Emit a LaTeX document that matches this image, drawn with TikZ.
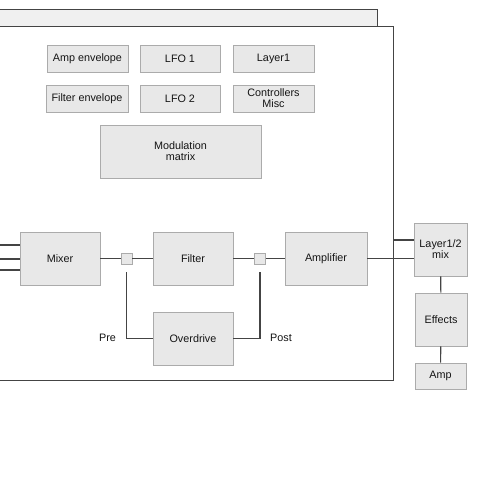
\documentclass[tikz,border=0pt]{standalone}
\usepackage{fontspec}
\setmainfont{Liberation Sans}
\usetikzlibrary{calc}
\usetikzlibrary{positioning}
\definecolor{boxfill}{HTML}{E8E8E8}
\definecolor{boxline}{HTML}{ABABAB}
\definecolor{wirecol}{HTML}{444444}
\definecolor{backfill}{HTML}{F0F0F0}
\tikzstyle{block} = [rectangle, draw=boxline, fill=boxfill, line width=0.9pt, align=center, inner sep=0, text=black!92, font=\fontsize{10.8}{11}\selectfont]
\tikzstyle{wire} = [-, draw=wirecol, line width=1.1pt]
\tikzstyle{panel} = [draw=wirecol, line width=1pt]
\tikzstyle{lbl} = [draw=none, inner sep=0, text=black!92, font=\fontsize{10.8}{11}\selectfont]

\begin{document}
\begin{tikzpicture}[x=1pt, y=-1pt]
\useasboundingbox (0,0) rectangle (500,500);
% voice panels
\draw [panel, fill=backfill] (-10,10) rectangle (377,40);
\draw [panel, fill=white] (-10,27) rectangle (393,380);
% modulation sources
\node [block, minimum width=81, minimum height=27] (ampenv) at (87.5, 58.5) {Amp envelope};
\node [block, minimum width=80, minimum height=27] (lfoa) at (180, 58.5) {LFO 1};
\node [block, minimum width=81, minimum height=27] (layera) at (273.5, 58.5) {Layer1};
\node [block, minimum width=82, minimum height=27] (filtenv) at (87, 98.5) {Filter envelope};
\node [block, minimum width=80, minimum height=27] (lfob) at (180, 98.5) {LFO 2};
\node [block, minimum width=81, minimum height=27] (ctrl) at (273.5, 98.5) {Controllers\\Misc};
\node [block, minimum width=161, minimum height=53] (modmat) at (180.5, 151.5) {Modulation\\matrix};
% signal path
\node [block, minimum width=80, minimum height=53] (mixer) at (60, 258.5) {Mixer};
\node [block, minimum width=11, minimum height=11] (sqpre) at (126.5, 258.5) {};
\node [block, minimum width=80, minimum height=53] (filter) at (193, 258.5) {Filter};
\node [block, minimum width=11, minimum height=11] (sqpost) at (260, 258.5) {};
\node [block, minimum width=82, minimum height=53] (amplif) at (326, 258.5) {Amplifier};
\node [block, minimum width=80, minimum height=53] (overdr) at (193, 338.5) {Overdrive};
\node [lbl] (pre) at (107.5, 337.5) {Pre};
\node [lbl] (post) at (281, 337.5) {Post};
\node [block, minimum width=53, minimum height=53] (mix) at (440.5, 249.5) {Layer1/2\\mix};
\node [block, minimum width=52, minimum height=53] (fx) at (441, 319.5) {Effects};
\node [block, minimum width=51, minimum height=26] (ampout) at (440.5, 376) {Amp};
\coordinate (ina) at (-5, 245);
\coordinate (inb) at (-5, 259);
\coordinate (inc) at (-5, 270);
\coordinate (layerb) at (393, 240);
\draw [wire] (ina) -- (ina -| mixer.west);
\draw [wire] (inb) -- (inb -| mixer.west);
\draw [wire] (inc) -- (inc -| mixer.west);
\draw [wire] (mixer) -- (sqpre);
\draw [wire] (sqpre) -- (filter);
\draw [wire] (filter) -- (sqpost);
\draw [wire] (sqpost) -- (amplif);
\draw [wire, shorten >=8] (overdr.west) -| (sqpre);
\draw [wire, shorten >=8] (overdr.east) -| (sqpost);
\draw [wire] (amplif.east) -- (amplif.east -| mix.west);
\draw [wire] (layerb) -- (layerb -| mix.west);
\draw [wire] (mix) -- (fx);
\draw [wire] (fx) -- (ampout);
\end{tikzpicture}
\end{document}
